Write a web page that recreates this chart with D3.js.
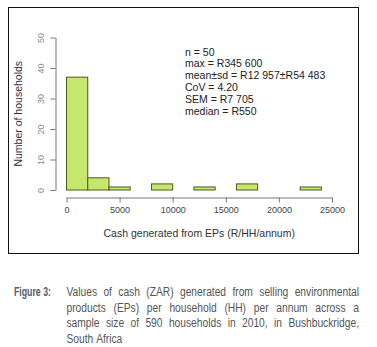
<!DOCTYPE html>
<html>
<head>
<meta charset="utf-8">
<script src="https://cdn.jsdelivr.net/npm/d3@7"></script>
<style>
  body { margin: 0; background: #fff; }
  svg { display: block; }
</style>
</head>
<body>
<div id="chart"></div>
<script>
// histogram bins (R/HH/annum), width 2000
var binStarts = [0, 2000, 4000, 6000, 8000, 10000, 12000, 14000, 16000, 18000, 20000, 22000];
var binCounts = [37, 4, 1, 0, 2, 0, 1, 0, 2, 0, 0, 1];
var binWidth = 2000;
var xTicks = [0, 5000, 10000, 15000, 20000, 25000];
var yTicks = [0, 10, 20, 30, 40, 50];
var statLines = ["n = 50", "max = R345 600", "mean\u00b1sd = R12 957\u00b1R54 483", "CoV = 4.20", "SEM = R7 705", "median = R550"];
var captionLabel = "Figure 3:";
var captionLines = [
    "Values of cash (ZAR) generated from selling environmental",
    "products (EPs) per household (HH) per annum across a",
    "sample size of 590 households in 2010, in Bushbuckridge,",
    "South Africa"
];

var W = 377, H = 347;
var svg = d3.select("#chart").append("svg")
    .attr("width", W)
    .attr("height", H);

// outer frame around the figure
svg.append("rect")
    .attr("x", 8.5).attr("y", 7.5)
    .attr("width", 350).attr("height", 246)
    .attr("fill", "none")
    .attr("stroke", "#111")
    .attr("stroke-width", 1);

var x = d3.scaleLinear().domain([0, 25000]).range([66.5, 332]);
var y = d3.scaleLinear().domain([0, 50]).range([190, 37.5]);

var plot = svg.append("g");

// bars
plot.selectAll("rect.bar")
    .data(binStarts)
    .enter().append("rect")
    .attr("class", "bar")
    .attr("x", function (d) { return x(d); })
    .attr("y", function (d, i) { return y(binCounts[i]); })
    .attr("width", function (d) { return x(d + binWidth) - x(d); })
    .attr("height", function (d, i) { return y(0) - y(binCounts[i]); })
    .attr("fill", "#c5e86c")
    .attr("stroke", function (d, i) { return binCounts[i] ? "#4a5a20" : "#777"; })
    .attr("stroke-width", 1);

var tickFont = "Liberation Sans, Arial, sans-serif";

// X axis
var xAxis = d3.axisBottom(x).tickValues(xTicks).tickSize(5).tickSizeOuter(0).tickFormat(d3.format("d"));
var gx = svg.append("g")
    .attr("transform", "translate(0,197.5)")
    .call(xAxis);
gx.select(".domain").attr("stroke", "#777");
gx.selectAll(".tick line").attr("stroke", "#777");
gx.selectAll(".tick text")
    .attr("fill", "#444")
    .attr("y", 9)
    .style("font-family", tickFont)
    .style("font-size", "9px");

// Y axis (R style: rotated tick labels)
var yAxis = d3.axisLeft(y).tickValues(yTicks).tickSize(5).tickSizeOuter(0);
var gy = svg.append("g")
    .attr("transform", "translate(55.5,0)")
    .call(yAxis);
gy.select(".domain").attr("stroke", "#777");
gy.selectAll(".tick line").attr("stroke", "#777");
gy.selectAll(".tick text")
    .attr("fill", "#888")
    .attr("x", null).attr("dy", null)
    .attr("text-anchor", "middle")
    .attr("transform", "translate(-12,0) rotate(-90)")
    .style("font-family", tickFont)
    .style("font-size", "9px");

// axis titles
svg.append("text")
    .attr("transform", "translate(22," + ((y(0) + y(50)) / 2) + ") rotate(-90)")
    .attr("text-anchor", "middle")
    .attr("fill", "#333")
    .style("font-family", tickFont)
    .style("font-size", "10.5px")
    .text("Number of households");

svg.append("text")
    .attr("x", (x(0) + x(25000)) / 2)
    .attr("y", 237)
    .attr("text-anchor", "middle")
    .attr("fill", "#333")
    .style("font-family", tickFont)
    .style("font-size", "10.5px")
    .text("Cash generated from EPs (R/HH/annum)");

// summary statistics
svg.append("g").selectAll("text")
    .data(statLines)
    .enter().append("text")
    .attr("x", 185)
    .attr("y", function (d, i) { return 55.5 + i * 11.8; })
    .attr("fill", "#222")
    .style("font-family", tickFont)
    .style("font-size", "10.5px")
    .text(function (d) { return d; });

// caption: narrow look made by squeezing Liberation Sans horizontally
var capFont = "Liberation Sans, Arial, sans-serif";
var sx = 0.82;
var lab = svg.append("g").attr("transform", "translate(14,296)");
var labText = lab.append("text")
    .attr("fill", "#555b6a")
    .style("font-family", capFont)
    .style("font-weight", "bold")
    .style("font-size", "12.5px")
    .text(captionLabel);
lab.attr("transform", "translate(14,296) scale(" + (37 / labText.node().getComputedTextLength()) + ",1)");

var capLeft = 66.5, capRight = 359;
captionLines.forEach(function (line, li) {
    var words = line.split(" ");
    var ly = 296 + li * 15.5;
    var g = svg.append("g").attr("transform", "translate(" + capLeft + "," + ly + ") scale(" + sx + ",1)");
    var nodes = words.map(function (w) {
        return g.append("text")
            .attr("fill", "#555")
            .style("font-family", capFont)
            .style("font-size", "12.5px")
            .text(w);
    });
    var widths = nodes.map(function (n) { return n.node().getComputedTextLength(); });
    var total = d3.sum(widths);
    var last = li === captionLines.length - 1;
    var gap = last ? 3.5 : ((capRight - capLeft) / sx - total) / (words.length - 1);
    var cx = 0;
    nodes.forEach(function (n, i) {
        n.attr("x", cx);
        cx += widths[i] + gap;
    });
});
</script>
</body>
</html>
